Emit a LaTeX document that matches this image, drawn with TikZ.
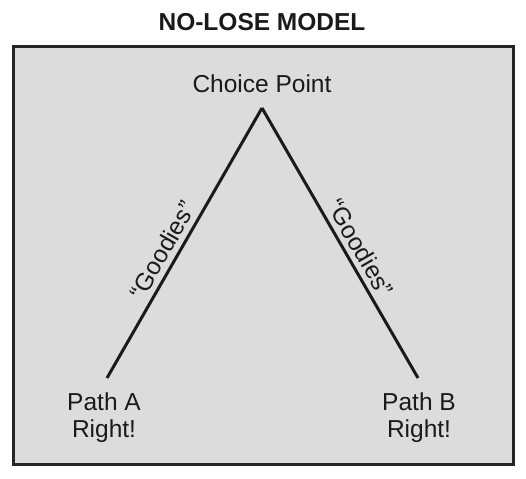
\documentclass[tikz,border=0pt]{standalone}
\usepackage{fontspec}
\setmainfont{Liberation Sans}
\definecolor{boxfill}{HTML}{DCDCDC}
\definecolor{boxline}{HTML}{262626}
\definecolor{ink}{HTML}{1A1A1A}
\begin{document}
\begin{tikzpicture}[x=1pt,y=-1pt,
  lbl/.style={text=ink,font=\fontsize{24.5}{27}\selectfont,align=center,inner sep=2pt},
  pathline/.style={draw=ink,line width=3pt}]
\useasboundingbox (0,0) rectangle (526,478);
\node[lbl,font=\fontsize{24.5}{27}\selectfont\bfseries] (title) at (262,22) {NO-LOSE MODEL};
\draw[fill=boxfill,draw=boxline,line width=3pt] (13.5,46.5) rectangle (513.5,464) ;
\node[lbl] (choice) at (262,84) {Choice Point};
\coordinate (apex) at (262,108);
\coordinate (aend) at (107,378);
\coordinate (bend) at (418,378);
\draw[pathline] (aend) -- node[lbl,sloped,above,pos=0.445,inner sep=5pt] (ga) {“Goodies”} (apex);
\draw[pathline] (apex) -- node[lbl,sloped,above,pos=0.547,inner sep=5pt] (gb) {“Goodies”} (bend);
\node[lbl] (patha) at (104,418) {Path A\\Right!};
\node[lbl] (pathb) at (419,418) {Path B\\Right!};
\end{tikzpicture}
\end{document}
